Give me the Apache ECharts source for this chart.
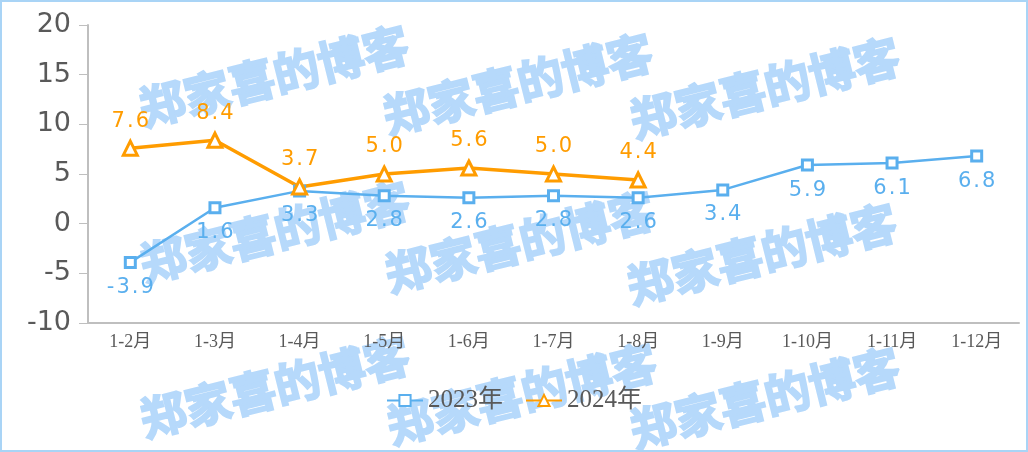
<!DOCTYPE html>
<html><head><meta charset="utf-8">
<script src="https://cdn.jsdelivr.net/npm/echarts@6/dist/echarts.min.js"></script>
<style>html,body{margin:0;padding:0;background:#fff}#c{width:1028px;height:452px}</style>
</head><body><div id="c"></div>
<script>
const categories = ['1-2月','1-3月','1-4月','1-5月','1-6月','1-7月','1-8月','1-9月','1-10月','1-11月','1-12月'];
const series2023 = [-3.9, 1.6, 3.3, 2.8, 2.6, 2.8, 2.6, 3.4, 5.9, 6.1, 6.8];
const series2024 = [7.6, 8.4, 3.7, 5.0, 5.6, 5.0, 4.4];
const seriesNames = ['2023年', '2024年'];
const watermarkText = '郑家喜的博客';
const watermarkSpots = [[274,76],[518,84],[765,88],[275,232],[520,242],[762,254],[275,387],[522,394],[765,398]];

const chart = echarts.init(document.getElementById('c'), null, {renderer:'canvas'});
const numFont = '"DejaVu Sans", Verdana, sans-serif';
const serifFont = '"Liberation Serif", "DejaVu Serif", "Noto Sans CJK SC", serif';

function spaced(str, cls) {
  return str.split('').map(ch => '{' + cls + '|' + ch + '}').join('');
}

const graphics = [{
  type:'rect', shape:{x:1,y:1,width:1026,height:450},
  style:{fill:'none', stroke:'#a9d4f6', lineWidth:2}, z:0
}];
watermarkSpots.forEach(p => {
  graphics.push({
    type:'text', x:p[0], y:p[1], rotation: 14*Math.PI/180, z:-10,
    style:{text:watermarkText, fill:'#b6d9fb', stroke:'#b6d9fb', lineWidth:2,
      font:'bold 46px "Noto Sans CJK SC", sans-serif',
      textAlign:'center', textVerticalAlign:'middle'}
  });
});

chart.setOption({
  animation:false,
  backgroundColor:'#fff',
  grid:{left:88, right:9, top:25, bottom:129},
  legend:{
    bottom:34, left:'center', itemWidth:36, itemHeight:14, itemGap:22,
    textStyle:{fontFamily:serifFont, fontSize:25, color:'#595959'},
    data:seriesNames
  },
  xAxis:{
    type:'category', data:categories, boundaryGap:true,
    axisLine:{onZero:false, lineStyle:{color:'#bfbfbf', width:2}},
    axisTick:{show:false},
    axisLabel:{fontFamily:serifFont, fontSize:18, color:'#595959', margin:10}
  },
  yAxis:{
    type:'value', min:-10, max:20, interval:5,
    axisLine:{show:true, lineStyle:{color:'#bfbfbf', width:2}},
    axisTick:{show:true, length:9, lineStyle:{color:'#bfbfbf', width:1}},
    splitLine:{show:false},
    axisLabel:{fontFamily:numFont, fontSize:27, color:'#595959', margin:17}
  },
  series:[{
    name:seriesNames[0], type:'line', data:series2023,
    symbol:'rect', symbolSize:10, showAllSymbol:true,
    lineStyle:{color:'#5aafee', width:2.5},
    itemStyle:{color:'#fff', borderColor:'#5aafee', borderWidth:3},
    label:{show:true, position:'bottom', distance:8,
      formatter: p => spaced(p.value.toFixed(1), 'c'),
      rich:{c:{fontFamily:numFont, fontSize:21, color:'#5aafee', padding:[0,1]}}}
  },{
    name:seriesNames[1], type:'line', data:series2024,
    symbol:'triangle', symbolSize:14, showAllSymbol:true,
    lineStyle:{color:'#ff9c00', width:3.5},
    itemStyle:{color:'#fff', borderColor:'#ff9c00', borderWidth:3},
    label:{show:true, position:'top', distance:8,
      formatter: p => spaced(p.value.toFixed(1), 'c'),
      rich:{c:{fontFamily:numFont, fontSize:21, color:'#ff9c00', padding:[0,1]}}}
  }],
  graphic: graphics
});
</script></body></html>
